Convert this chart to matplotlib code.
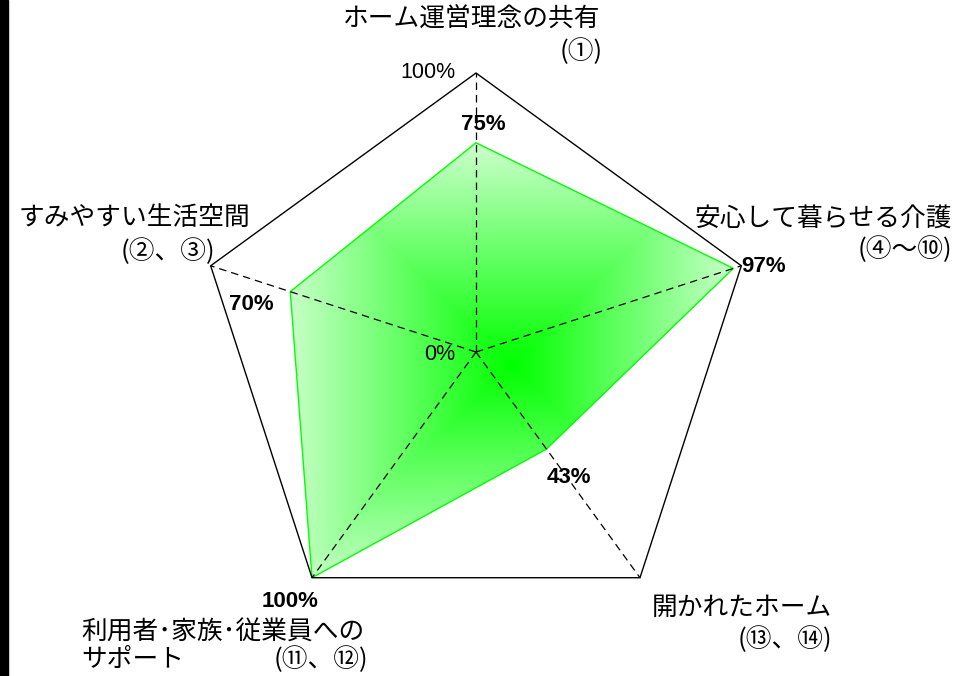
import numpy as np
import matplotlib
matplotlib.use("Agg")
import matplotlib.pyplot as plt
from matplotlib.patches import Polygon, Rectangle

# ---- data ----
categories = ["ホーム運営理念の共有", "安心して暮らせる介護", "開かれたホーム",
              "利用者･家族･従業員への\nサポート", "すみやすい生活空間"]
sub_labels = ["(①)", "(④〜⑩)", "(⑬、⑭)", "(⑪、⑫)", "(②、③)"]
values = [75, 97, 43, 100, 70]
axis_max_label = "100%"
axis_min_label = "0%"

JP = ["Noto Sans CJK JP", "DejaVu Sans"]
NUM = ["Liberation Sans Narrow", "Liberation Sans", "DejaVu Sans"]

W, H = 971, 676
fig = plt.figure(figsize=(W / 100, H / 100), dpi=100)
ax = fig.add_axes([0, 0, 1, 1])
ax.set_xlim(0, W)
ax.set_ylim(H, 0)
ax.axis("off")

cx, cy, R = 476, 352, 279
n = len(values)
ang = np.deg2rad(90 - 72 * np.arange(n))
ux, uy = np.cos(ang), -np.sin(ang)

# outer frame
outer = np.column_stack([cx + R * ux, cy + R * uy])
ax.add_patch(Polygon(outer, closed=True, fill=False, ec="black", lw=1.0, zorder=3))

# data polygon with rectangular "from centre" gradient
v = np.array(values) / 100.0
pts = np.column_stack([cx + R * v * ux, cy + R * v * uy])
x0, x1 = pts[:, 0].min(), pts[:, 0].max()
y0, y1 = pts[:, 1].min(), pts[:, 1].max()
gx, gy = (x0 + x1) / 2, (y0 + y1) / 2 + 4
hw, hh = (x1 - x0) / 2, (y1 - y0) / 2
xs = np.linspace(x0, x1, 400)
ys = np.linspace(y0, y1, 400)
XX, YY = np.meshgrid(xs, ys)
t = np.maximum(np.abs(XX - gx) / hw, np.abs(YY - gy) / hh)
t = np.clip(t, 0, 1)
c0 = np.array([0, 255, 0]) / 255.0
c1 = np.array([200, 255, 200]) / 255.0
img = c0[None, None, :] + (c1 - c0)[None, None, :] * t[..., None]
poly = Polygon(pts, closed=True, fill=False, ec="#00ff00", lw=1.0, zorder=2)
ax.add_patch(poly)
im = ax.imshow(img, extent=[x0, x1, y1, y0], origin="upper", zorder=1,
               interpolation="bilinear", aspect="auto")
im.set_clip_path(Polygon(pts, closed=True, transform=ax.transData))
ax.set_xlim(0, W)
ax.set_ylim(H, 0)

# spokes
for i in range(n):
    ax.plot([cx, outer[i, 0]], [cy, outer[i, 1]], color="black", lw=0.9,
            ls=(0, (6, 4)), zorder=3)

# value labels (offsets relative to data point)
val_off = [(7, -18), (30, -2), (22, 28), (-22, 24), (-39, 13)]
for i, val in enumerate(values):
    ax.text(pts[i, 0] + val_off[i][0], pts[i, 1] + val_off[i][1], f"{val}%",
            ha="center", va="center", fontsize=16, fontweight="bold",
            family=NUM, zorder=4)

ax.text(cx - 21, 73, axis_max_label, ha="right", va="center", fontsize=15.5,
        family=NUM, zorder=4)
ax.text(cx - 21, 354, axis_min_label, ha="right", va="center", fontsize=15.5,
        family=NUM, zorder=4)

# category labels
cat_pos = [(472, 20, "center"), (952, 220, "right"), (832, 608, "right"),
           (81, 633, "left"), (250, 218, "right")]
sub_pos = [(603, 52), (952, 250), (832, 640), (368, 660), (215, 252)]
line_gap = 27
for i in range(n):
    x, y, ha = cat_pos[i]
    for k, line in enumerate(categories[i].split("\n")):
        ax.text(x, y + k * line_gap, line, ha=ha, va="center", fontsize=18.5,
                family=JP, zorder=4)
    ax.text(sub_pos[i][0], sub_pos[i][1], sub_labels[i], ha="right", va="center",
            fontsize=18.5, family=JP, zorder=4)

# black strip at left edge
fig.patches.append(Rectangle((0, 0), 8 / W, 1, transform=fig.transFigure,
                             color="black", zorder=10))

fig.savefig("out.png", dpi=100)
